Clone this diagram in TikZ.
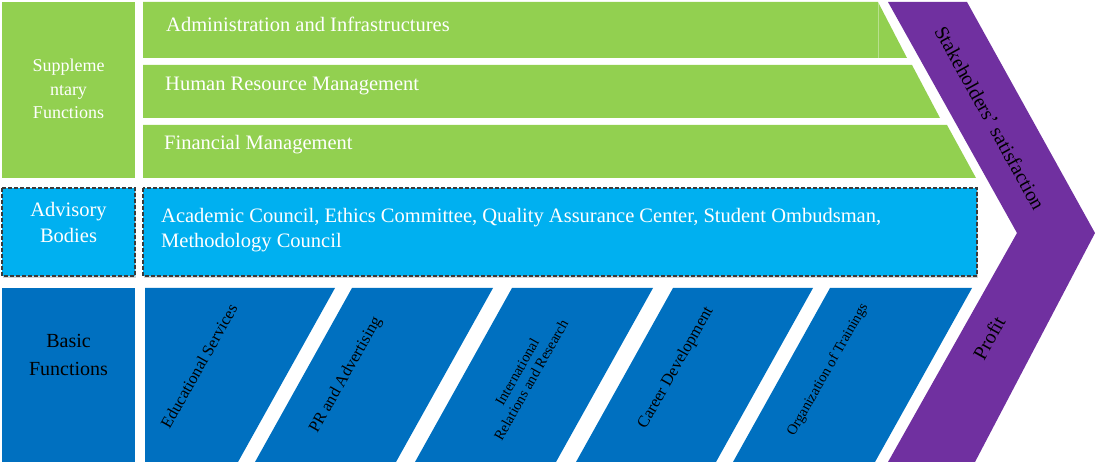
\documentclass[tikz,border=0pt]{standalone}
\usepackage{fontspec}
\setmainfont{Liberation Serif}
\usetikzlibrary{shadows}
\definecolor{sgreen}{HTML}{92D050}
\definecolor{lblue}{HTML}{00B0F0}
\definecolor{dblue}{HTML}{0070C0}
\definecolor{purp}{HTML}{7030A0}
\definecolor{dashgray}{HTML}{3A3A3A}
\tikzset{
  greenbox/.style={fill=sgreen},
  advbox/.style={fill=lblue, draw=dashgray, line width=1.2pt, dash pattern=on 4pt off 2pt,
    drop shadow={shadow xshift=0.5pt, shadow yshift=-2pt, opacity=0.35, fill=gray}},
  basicbox/.style={fill=dblue},
  chev/.style={fill=purp},
  wtxt/.style={text=white, inner sep=0pt, font=\fontsize{20.5}{25}\selectfont},
  wtxts/.style={text=white, inner sep=0pt, font=\fontsize{18}{24}\selectfont},
  btxt/.style={text=black, inner sep=0pt, font=\fontsize{20}{25}\selectfont},
  rtxt/.style={text=black, inner sep=0pt, rotate=60.5, font=\fontsize{16.5}{19}\selectfont},
  rtxts/.style={text=black, inner sep=0pt, rotate=60.5, align=center, font=\fontsize{14.5}{16}\selectfont},
}
\begin{document}
\begin{tikzpicture}[x=1pt,y=-1pt]
\useasboundingbox (0,0) rectangle (1095,462);
% purple chevron
\path[chev] (888,2) -- (967,2) -- (1095,233) -- (975,462) -- (888,462) -- (1017,233) -- cycle;
% supplementary
\path[greenbox] (2,2) rectangle (135,178);
\path[greenbox] (143,2) -- (878,2) -- (907,58) -- (143,58) -- cycle;
\draw[white, opacity=0.35, line width=0.4pt] (878,2) -- (878,58);
\path[greenbox] (143,65) -- (912,65) -- (940,118) -- (143,118) -- cycle;
\path[greenbox] (143,125) -- (947,125) -- (976,178) -- (143,178) -- cycle;
% advisory
\path[advbox] (2,188) rectangle (135,276);
\path[advbox] (143,188) rectangle (977,276);
% basic
\path[basicbox] (2,288) rectangle (135,462);
\path[basicbox] (145,288) -- (335,288) -- (238,462) -- (145,462) -- cycle;
\path[basicbox] (352,288) -- (493,288) -- (396,462) -- (255,462) -- cycle;
\path[basicbox] (512,288) -- (653,288) -- (556,462) -- (415,462) -- cycle;
\path[basicbox] (673,288) -- (813,288) -- (716,462) -- (576,462) -- cycle;
\path[basicbox] (830,288) -- (972,288) -- (875,462) -- (733,462) -- cycle;
% texts left column
\node[wtxts, anchor=base] (s1) at (68.5,72) {Suppleme};
\node[wtxts, anchor=base] (s2) at (68.5,95.5) {ntary};
\node[wtxts, anchor=base] (s3) at (68.5,119) {Functions};
\node[wtxt, anchor=base] (a1) at (68.5,217) {Advisory};
\node[wtxt, anchor=base] (a2) at (68.5,243) {Bodies};
\node[btxt, anchor=base] (b1) at (68.5,348) {Basic};
\node[btxt, anchor=base] (b2) at (68.5,375) {Functions};
% green rows
\node[wtxt, anchor=base west] (adm) at (166,32) {Administration and Infrastructures};
\node[wtxt, anchor=base west] (hrm) at (165,91) {Human Resource Management};
\node[wtxt, anchor=base west] (fin) at (164,150) {Financial Management};
% advisory text
\node[wtxt, anchor=base west] (ac1) at (161,223) {Academic Council, Ethics Committee, Quality Assurance Center, Student Ombudsman,};
\node[wtxt, anchor=base west] (ac2) at (161,248) {Methodology Council};
% basic functions
\node[rtxt] (edu) at (199,366) {Educational Services};
\node[rtxt] (pr) at (346,375) {PR and Advertising};
\node[rtxts] (irr) at (524,376) {International\\Relations and Research};
\node[rtxt] (car) at (676,368) {Career Development};
\node[rtxts] (org) at (828,370) {Organization of Trainings};
% chevron texts
\node[btxt, rotate=-61] (stk) at (990,118) {Stakeholders’ satisfaction};
\node[btxt, rotate=61] (prf) at (989,338) {Profit};
\end{tikzpicture}
\end{document}
